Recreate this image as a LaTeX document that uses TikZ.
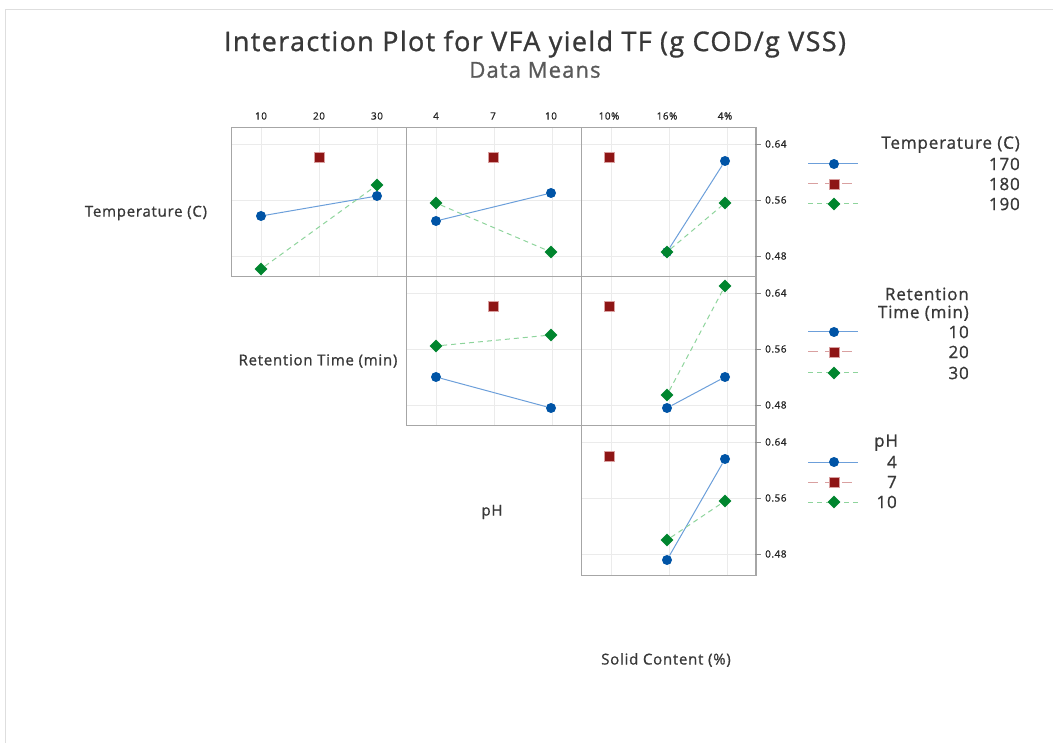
\documentclass[tikz,border=0pt]{standalone}
\usepackage{fontspec}
\setmainfont{Open Sans}[LetterSpace=5, FakeBold=1]
\usepackage{tikz}
\usetikzlibrary{shapes.geometric}

\definecolor{ptblue}{HTML}{0054A6}
\definecolor{ptred}{HTML}{8E1515}
\definecolor{ptgreen}{HTML}{00852E}
\definecolor{lnblue}{HTML}{6C9FDA}
\definecolor{lnred}{HTML}{D9A0A0}
\definecolor{lngreen}{HTML}{8ED49C}
\definecolor{txtgrey}{HTML}{383838}

\begin{document}
\begin{tikzpicture}[x=1pt, y=-1pt,
    bluedot/.style={circle, fill=ptblue, inner sep=0pt, minimum size=10pt},
    redsq/.style={rectangle, fill=ptred, draw=lnred, line width=0.4pt, inner sep=0pt, minimum size=10pt},
    greendia/.style={diamond, fill=ptgreen, inner sep=0pt, minimum size=13pt},
    blueline/.style={lnblue, line width=1pt},
    redline/.style={lnred, line width=1pt, dash pattern=on 10pt off 7pt},
    greenline/.style={lngreen, line width=1pt, dash pattern=on 5pt off 4pt},
    panelframe/.style={draw=black!35, line width=1pt},
    gridline/.style={black!8, line width=0.8pt},
    ticklab/.style={font=\fontsize{10}{12}\selectfont, text=black!85},
    factorlab/.style={font=\fontsize{15}{17}\selectfont, text=txtgrey},
    leglab/.style={font=\fontsize{17}{19}\selectfont, text=txtgrey, inner sep=0pt}]
  \useasboundingbox (0,0) rectangle (1053,743);
  \draw[black!13, line width=1pt] (5,743) -- (5,10) -- (1053,10);

  % title
  \node[font=\fontsize{27}{32}\selectfont, text=txtgrey] (title) at (535,44)
    {Interaction Plot for VFA yield TF (g COD/g VSS)};
  \node[font=\fontsize{22}{26}\selectfont, text=black!65] (subtitle) at (535,70) {Data Means};

  % panels with grid lines
  \foreach \c/\r in {0/0,1/0,2/0,1/1,2/1,2/2} {
    \pgfmathsetmacro\px{231+175*\c}
    \pgfmathsetmacro\py{128+149*\r}
    \foreach \dx in {30,88,146}
      \draw[gridline] (\px+\dx,\py) -- (\px+\dx,\py+149);
    \foreach \dy in {16,72,128}
      \draw[gridline] (\px,\py+\dy) -- (\px+175,\py+\dy);
    \draw[panelframe] (\px,\py) rectangle (\px+175,\py+149);
  }

  % top axis labels
  \foreach \xx/\lab in {261/10,319/20,377/30,436/4,493/7,551/10,609/10\%,667/16\%,725/4\%}
    \node[ticklab] at (\xx,116) {\lab};

  % right axis
  \draw[black!35, line width=1pt] (755,128) -- (755,575);
  \foreach \r in {0,1,2}
    \foreach \dy/\lab in {16/0.64,72/0.56,128/0.48} {
      \draw[black!45, line width=0.8pt] (755,128+149*\r+\dy) -- (761,128+149*\r+\dy);
      \node[ticklab, anchor=west, inner sep=0pt] at (765,128+149*\r+\dy) {\lab};
    }

  % factor names
  \node[factorlab] (ftemp) at (146,213) {Temperature (C)};
  \node[factorlab] (fret) at (318,361) {Retention Time (min)};
  \node[factorlab] (fph) at (492,512) {pH};
  \node[factorlab] (fsolid) at (666,660) {Solid Content (\%)};

  % Temperature x Retention Time
  \node[bluedot] (a1) at (261,216) {};
  \node[bluedot] (a3) at (377,196) {};
  \node[greendia] (c1) at (261,269) {};
  \node[greendia] (c3) at (377,185) {};
  \draw[blueline] (a1) -- (a3);
  \draw[greenline] (c1) -- (c3);
  \node[redsq] (b2) at (319,157) {};

  % Temperature x pH
  \node[bluedot] (d1) at (436,221) {};
  \node[bluedot] (d3) at (551,193) {};
  \node[greendia] (f1) at (436,203) {};
  \node[greendia] (f3) at (551,252) {};
  \draw[blueline] (d1) -- (d3);
  \draw[greenline] (f1) -- (f3);
  \node[redsq] (e2) at (493,157) {};

  % Temperature x Solid Content
  \node[bluedot] (g2) at (667,252) {};
  \node[bluedot] (g3) at (725,161) {};
  \draw[blueline] (g2) -- (g3);
  \node[greendia] (i2) at (667,252) {};
  \node[greendia] (i3) at (725,203) {};
  \draw[greenline] (i2) -- (i3);
  \node[redsq] (h1) at (609,157) {};

  % Retention Time x pH
  \node[bluedot] (j1) at (436,377) {};
  \node[bluedot] (j3) at (551,408) {};
  \node[greendia] (l1) at (436,346) {};
  \node[greendia] (l3) at (551,335) {};
  \draw[blueline] (j1) -- (j3);
  \draw[greenline] (l1) -- (l3);
  \node[redsq] (k2) at (493,306) {};

  % Retention Time x Solid Content
  \node[bluedot] (m2) at (667,408) {};
  \node[bluedot] (m3) at (725,377) {};
  \node[greendia] (o2) at (667,395) {};
  \node[greendia] (o3) at (725,286) {};
  \draw[blueline] (m2) -- (m3);
  \draw[greenline] (o2) -- (o3);
  \node[redsq] (n1) at (609,306) {};

  % pH x Solid Content
  \node[bluedot] (p2) at (667,560) {};
  \node[bluedot] (p3) at (725,459) {};
  \node[greendia] (r2) at (667,540) {};
  \node[greendia] (r3) at (725,501) {};
  \draw[blueline] (p2) -- (p3);
  \draw[greenline] (r2) -- (r3);
  \node[redsq] (q1) at (609,456) {};

  % legends
  \node[leglab, anchor=south east] (legtemp) at (1020,153) {Temperature (C)};
  \node[leglab, anchor=south east, align=right] (legret) at (969,321) {Retention\\[-1pt]Time (min)};
  \node[leglab, anchor=south west] (legph) at (874,451) {pH};
  \foreach \yy/\lab/\xr in {164/170/1020,184/180/1020,204/190/1020,
                           332/10/969,352/20/969,373/30/969,
                           462/4/897,482/7/897,502/10/897}
    \node[leglab, anchor=east] at (\xr,\yy) {\lab};
  \foreach \yy in {164,332,462} {
    \draw[blueline] (808,\yy) -- (858,\yy);
    \node[bluedot] at (834,\yy) {};
  }
  \foreach \yy in {184,352,482} {
    \draw[redline] (808,\yy) -- (858,\yy);
    \node[redsq] at (834,\yy) {};
  }
  \foreach \yy in {204,373,502} {
    \draw[greenline] (808,\yy) -- (858,\yy);
    \node[greendia] at (834,\yy) {};
  }
\end{tikzpicture}
\end{document}
